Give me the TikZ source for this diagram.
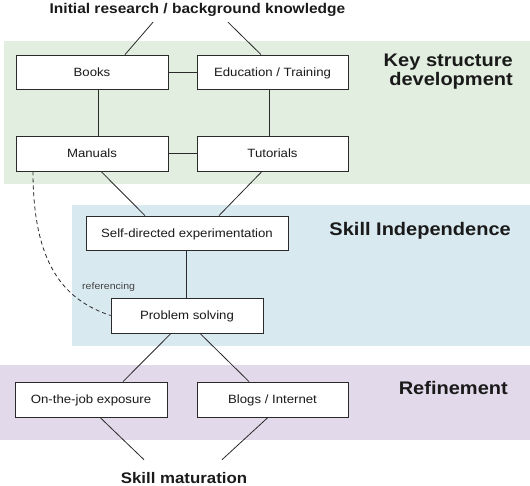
\documentclass[tikz,border=0pt]{standalone}
\usepackage{fontspec}
\setmainfont{Liberation Sans}[FakeStretch=1.1]
\definecolor{greenband}{HTML}{E2EEE0}
\definecolor{blueband}{HTML}{D9E9F0}
\definecolor{purpleband}{HTML}{E2D9EA}
\definecolor{textc}{HTML}{1A1A1A}
\definecolor{linec}{HTML}{2A2A2A}
\definecolor{refc}{HTML}{444444}
\begin{document}
\begin{tikzpicture}[x=1pt,y=-1pt,
  box/.style={draw=linec, line width=0.8pt, fill=white, minimum height=34pt, inner sep=0pt,
    font=\fontsize{12}{14}\selectfont, text=textc, text height=8.6pt, text depth=0pt},
  conn/.style={draw=linec, line width=0.8pt},
  head/.style={font=\fontsize{18.2}{19}\selectfont\bfseries, text=textc, inner sep=0pt},
  band/.style={draw=none}
]
\useasboundingbox (0,0) rectangle (530,486);
\fill[greenband] (4,41) rectangle (530,184);
\fill[blueband] (72,205) rectangle (530,346);
\fill[purpleband] (0,365) rectangle (530,440);

\node[font=\fontsize{14.1}{16}\selectfont\bfseries, text=textc, anchor=base, inner sep=0pt] (title) at (197.5,14) {Initial research / background knowledge};
\node[font=\fontsize{15.3}{17}\selectfont\bfseries, text=textc, anchor=base, inner sep=0pt] (mat) at (184,483) {Skill maturation};

\node[head, anchor=north east, align=right] (key) at (513,54) {Key structure\\development};
\node[head, anchor=base east] (indep) at (511,235.5) {Skill Independence};
\node[head, anchor=base east] (refine) at (508,394.3) {Refinement};

\node[box, minimum width=152pt] (books) at (92,72) {Books};
\node[box, minimum width=151pt] (edu) at (272.5,72) {Education / Training};
\node[box, minimum width=152pt, minimum height=35pt] (man) at (92,153.5) {Manuals};
\node[box, minimum width=151pt, minimum height=35pt] (tut) at (272.5,153.5) {Tutorials};
\node[box, minimum width=202pt] (sde) at (187,233) {Self-directed experimentation};
\node[box, minimum width=152pt, minimum height=35pt] (ps) at (187,315.5) {Problem solving};
\node[box, minimum width=152pt, minimum height=35pt] (otj) at (91,399.5) {On-the-job exposure};
\node[box, minimum width=151pt, minimum height=35pt] (blogs) at (272.5,399.5) {Blogs / Internet};

\node[font=\fontsize{9.6}{11}\selectfont, text=refc, anchor=base west, inner sep=0pt] (refl) at (82,290) {referencing};

\draw[conn] ([xshift=-44.5pt,yshift=-5pt]title.south) -- ([xshift=33pt]books.north);
\draw[conn] ([xshift=30.5pt,yshift=-5pt]title.south) -- ([xshift=-11.5pt]edu.north);
\draw[conn] (books.east) -- (edu.west);
\draw[conn] ([xshift=6pt]books.south) -- ([xshift=6pt]man.north);
\draw[conn] ([xshift=-3.5pt]edu.south) -- ([xshift=-3.5pt]tut.north);
\draw[conn] (man.east) -- (tut.west);
\draw[conn] ([xshift=9pt]man.south) -- ([xshift=-42pt]sde.north);
\draw[conn] ([xshift=-10.5pt]tut.south) -- ([xshift=32pt]sde.north);
\draw[conn] ([xshift=-1pt]sde.south) -- ([xshift=-1pt]ps.north);
\draw[conn] ([xshift=-16pt]ps.south) -- ([xshift=32pt]otj.north);
\draw[conn] ([xshift=13pt]ps.south) -- ([xshift=-23.5pt]blogs.north);
\draw[conn] ([xshift=9pt]otj.south) -- ([xshift=-40pt,yshift=12pt]mat.north);
\draw[conn] ([xshift=-4.5pt]blogs.south) -- ([xshift=38pt,yshift=12pt]mat.north);

\draw[draw=linec, line width=0.8pt, dash pattern=on 4pt off 3pt] ([xshift=-59pt]man.south) .. controls +(0,95) and +(-45,-15) .. (ps.west);
\end{tikzpicture}
\end{document}
